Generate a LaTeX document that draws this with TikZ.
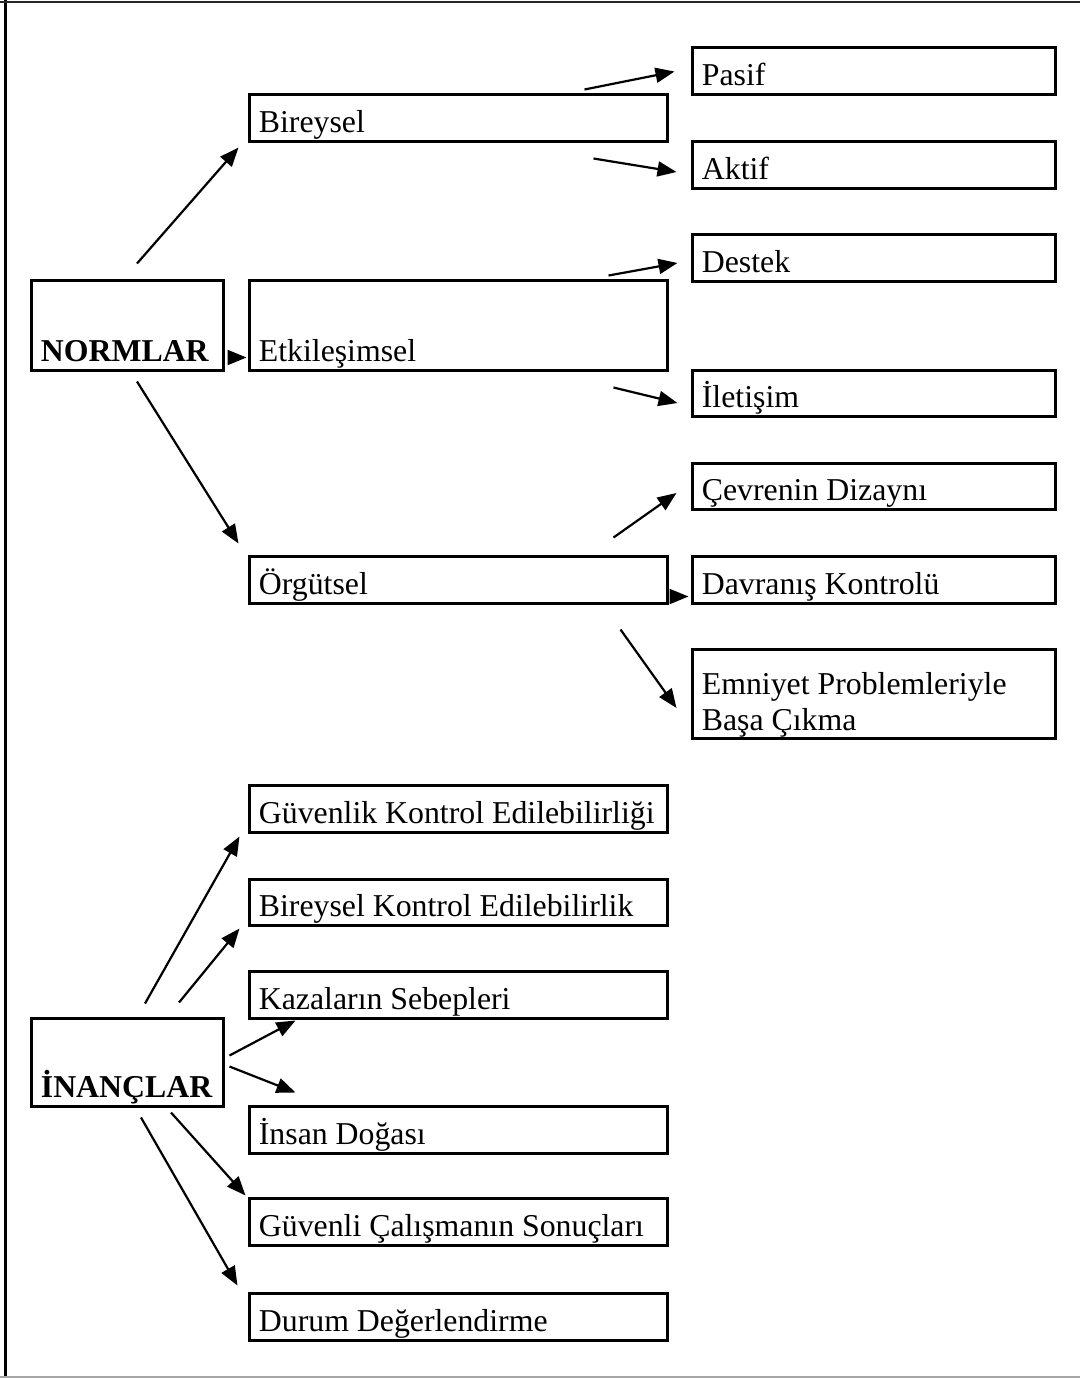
\documentclass[tikz,border=0pt]{standalone}
\usepackage{fontspec}
\setmainfont{Liberation Serif}
\usetikzlibrary{arrows.meta,calc,fit}

\tikzset{
  box/.style={draw, line width=1.5pt, inner sep=0pt},
  lbl/.style={inner sep=0pt, anchor=base west, font=\fontsize{15.9}{18}\selectfont},
  head/.style={lbl, font=\fontsize{15.9}{18}\selectfont\bfseries},
  arr/.style={line width=1.1pt, -{Triangle[length=9.5pt,width=7.5pt]}},
}

\begin{document}
\begin{tikzpicture}[x=0.5pt,y=-0.5pt]
\useasboundingbox (0,0) rectangle (1080,1378);

% page frame
\draw[line width=1.5pt] (5,0) -- (5,1378);
\draw[line width=1pt, black!85] (0,2) -- (1080,2);
\draw[line width=0.8pt, black!35] (0,1377) -- (1080,1377);

% ---- NORMLAR branch ----
\node[box, fit={(31,280) (223,370)}] (normlar) {};
\node[head] (normlart) at ($(normlar.south west)+(11,-10)$) {NORMLAR};

\node[box, fit={(249,94) (667,141)}] (bir) {};
\node[lbl] (birt) at ($(bir.south west)+(11,-10)$) {Bireysel};
\node[box, fit={(249,280) (667,370)}] (etk) {};
\node[lbl] (etkt) at ($(etk.south west)+(11,-10)$) {Etkileşimsel};
\node[box, fit={(249,556) (667,603)}] (org) {};
\node[lbl] (orgt) at ($(org.south west)+(11,-10)$) {Örgütsel};

\node[box, fit={(692,47) (1055,94)}] (pasif) {};
\node[lbl] (pasift) at ($(pasif.south west)+(11,-10)$) {Pasif};
\node[box, fit={(692,141) (1055,188)}] (aktif) {};
\node[lbl] (aktift) at ($(aktif.south west)+(11,-10)$) {Aktif};
\node[box, fit={(692,234) (1055,281)}] (destek) {};
\node[lbl] (destekt) at ($(destek.south west)+(11,-10)$) {Destek};
\node[box, fit={(692,370) (1055,416)}] (ilet) {};
\node[lbl] (iletwt) at ($(ilet.south west)+(11,-10)$) {İletişim};
\node[box, fit={(692,463) (1055,509)}] (cevre) {};
\node[lbl] (cevret) at ($(cevre.south west)+(11,-10)$) {Çevrenin Dizaynı};
\node[box, fit={(692,556) (1055,603)}] (davr) {};
\node[lbl] (davrt) at ($(davr.south west)+(11,-10)$) {Davranış Kontrolü};
\node[box, fit={(692,649) (1055,738)}] (emn) {};
\node[lbl] (emnt1) at ($(emn.south west)+(11,-45)$) {Emniyet Problemleriyle};
\node[lbl] (emnt2) at ($(emn.south west)+(11,-9)$) {Başa Çıkma};

\draw[arr] ($(normlar.north)+(10,-15)$) -- ($(bir.south west)+(-9,5)$);
\draw[arr] ($(normlar.south east)+(4,-14)$) -- ($(etk.south west)+(-1,-14)$);
\draw[arr] ($(normlar.south)+(10,10)$) -- ($(org.north west)+(-9,-11)$);

\draw[arr] ($(bir.north east)+(-84,-3)$) -- ($(pasif.west)+(-16,1)$);
\draw[arr] ($(bir.south east)+(-75,16)$) -- ($(aktif.west)+(-14,7.5)$);
\draw[arr] ($(etk.north east)+(-60,-3)$) -- ($(destek.west)+(-13,5.5)$);
\draw[arr] ($(etk.south east)+(-55,16)$) -- ($(ilet.west)+(-13,10)$);
\draw[arr] ($(org.north east)+(-55,-17)$) -- ($(cevre.west)+(-14,7)$);
\draw[arr] ($(org.south east)+(4,-8)$) -- ($(davr.south west)+(-2,-8)$);
\draw[arr] ($(org.south east)+(-48,25)$) -- ($(emn.west)+(-14,14.5)$);

% ---- İNANÇLAR branch ----
\node[box, fit={(31,1018) (223,1106)}] (inanc) {};
\node[head] (inanct) at ($(inanc.south west)+(11,-10)$) {İNANÇLAR};

\node[box, fit={(249,785) (667,832)}] (guv) {};
\node[lbl] (guvt) at ($(guv.south west)+(11,-10)$) {Güvenlik Kontrol Edilebilirliği};
\node[box, fit={(249,879) (667,925)}] (birk) {};
\node[lbl] (birkt) at ($(birk.south west)+(11,-10)$) {Bireysel Kontrol Edilebilirlik};
\node[box, fit={(249,971) (667,1018)}] (kaza) {};
\node[lbl] (kazat) at ($(kaza.south west)+(11,-10)$) {Kazaların Sebepleri};
\node[box, fit={(249,1106) (667,1153)}] (insan) {};
\node[lbl] (insant) at ($(insan.south west)+(11,-10)$) {İnsan Doğası};
\node[box, fit={(249,1198) (667,1245)}] (guvc) {};
\node[lbl] (guvct) at ($(guvc.south west)+(11,-10)$) {Güvenli Çalışmanın Sonuçları};
\node[box, fit={(249,1293) (667,1340)}] (durum) {};
\node[lbl] (durumt) at ($(durum.south west)+(11,-10)$) {Durum Değerlendirme};

\draw[arr] ($(inanc.north)+(18,-13)$) -- ($(guv.south west)+(-8,3)$);
\draw[arr] ($(inanc.north)+(52,-14)$) -- ($(birk.south west)+(-8,2)$);
\draw[arr] ($(inanc.north east)+(5,39)$) -- ($(kaza.south west)+(48,1)$);
\draw[arr] ($(inanc.north east)+(5,50)$) -- ($(insan.north west)+(48,-12)$);
\draw[arr] ($(inanc.south)+(44,5)$) -- ($(guvc.north west)+(-2,-1)$);
\draw[arr] ($(inanc.south)+(14,10)$) -- ($(durum.north west)+(-10,-6)$);
\end{tikzpicture}
\end{document}
